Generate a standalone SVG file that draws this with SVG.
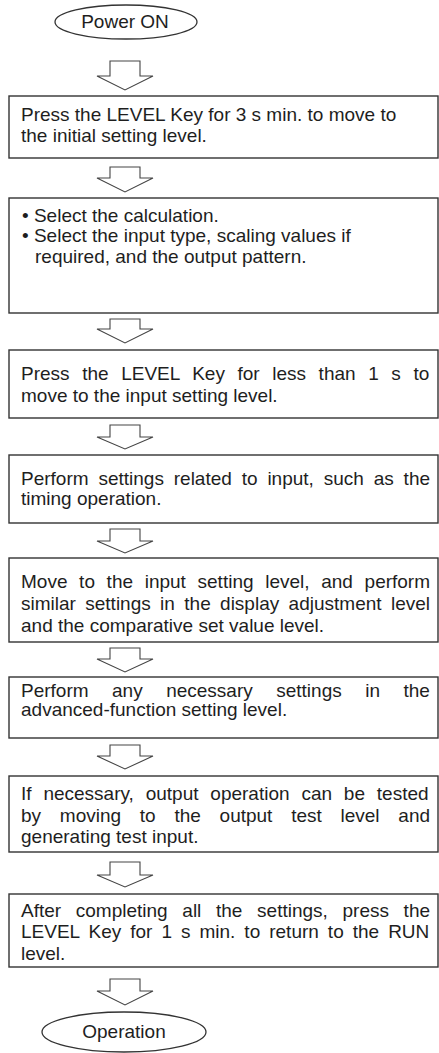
<svg xmlns="http://www.w3.org/2000/svg" width="439" height="1053" viewBox="0 0 439 1053">
<defs>
<style>
.box{fill:#fff;stroke:#333;stroke-width:1.4}
.term{fill:#fff;stroke:#333;stroke-width:1.3}
.arr{fill:#fff;stroke:#444;stroke-width:1.1;stroke-linejoin:miter}
text{font-family:"Liberation Sans",Arial,sans-serif;font-size:19px;fill:#1e1e1e}
.c{text-anchor:middle}
</style>
</defs>
<rect width="439" height="1053" fill="#fff"/>
<g id="connectors">
<path class="arr" d="M110,61 H140 V76 H153 L125,90 L97,76 H110 Z"/>
<path class="arr" d="M110,167 H140 V178 H153 L125,192 L97,178 H110 Z"/>
<path class="arr" d="M110,319 H140 V329 H153 L125,343 L97,329 H110 Z"/>
<path class="arr" d="M110,425 H140 V437 H153 L125,449 L97,437 H110 Z"/>
<path class="arr" d="M110,529 H140 V541 H153 L125,553 L97,541 H110 Z"/>
<path class="arr" d="M110,648 H140 V659 H153 L125,672 L97,659 H110 Z"/>
<path class="arr" d="M110,745 H140 V756 H153 L125,769 L97,756 H110 Z"/>
<path class="arr" d="M110,862 H140 V875 H153 L125,887 L97,875 H110 Z"/>
<path class="arr" d="M110,979 H140 V991 H153 L125,1005 L97,991 H110 Z"/>
</g>
<g id="power-on">
<ellipse class="term" cx="126" cy="22" rx="71" ry="17"/>
<text class="c" x="125" y="28">Power ON</text>
</g>
<g id="step1">
<rect class="box" x="9" y="96" width="429" height="62"/>
<text x="21" y="121">Press the LEVEL Key for 3 s min. to move to</text>
<text x="21" y="142">the initial setting level.</text>
</g>
<g id="step2">
<rect class="box" x="9" y="198" width="429" height="115"/>
<text x="22" y="222">• Select the calculation.</text>
<text x="22" y="242">• Select the input type, scaling values if</text>
<text x="35" y="263">required, and the output pattern.</text>
</g>
<g id="step3">
<rect class="box" x="9" y="350" width="429" height="68"/>
<text x="21" y="380" word-spacing="7.3">Press the LEVEL Key for less than 1 s to</text>
<text x="21" y="402">move to the input setting level.</text>
</g>
<g id="step4">
<rect class="box" x="9" y="455" width="429" height="68"/>
<text x="21" y="485" word-spacing="4.57">Perform settings related to input, such as the</text>
<text x="21" y="505">timing operation.</text>
</g>
<g id="step5">
<rect class="box" x="9" y="558" width="429" height="84"/>
<text x="21" y="588" word-spacing="6.38">Move to the input setting level, and perform</text>
<text x="21" y="610" word-spacing="4.1">similar settings in the display adjustment level</text>
<text x="21" y="632">and the comparative set value level.</text>
</g>
<g id="step6">
<rect class="box" x="9" y="677" width="429" height="61"/>
<text x="21" y="697" word-spacing="18.2">Perform any necessary settings in the</text>
<text x="21" y="716">advanced-function setting level.</text>
</g>
<g id="step7">
<rect class="box" x="9" y="776" width="429" height="76"/>
<text x="21" y="800" word-spacing="6.55">If necessary, output operation can be tested</text>
<text x="21" y="822" word-spacing="13.47">by moving to the output test level and</text>
<text x="21" y="843">generating test input.</text>
</g>
<g id="step8">
<rect class="box" x="9" y="894" width="429" height="73"/>
<text x="21" y="917" word-spacing="9.38">After completing all the settings, press the</text>
<text x="21" y="938" word-spacing="3.73">LEVEL Key for 1 s min. to return to the RUN</text>
<text x="21" y="960">level.</text>
</g>
<g id="operation">
<ellipse class="term" cx="124" cy="1032" rx="82" ry="20"/>
<text class="c" x="124" y="1038">Operation</text>
</g>
</svg>
